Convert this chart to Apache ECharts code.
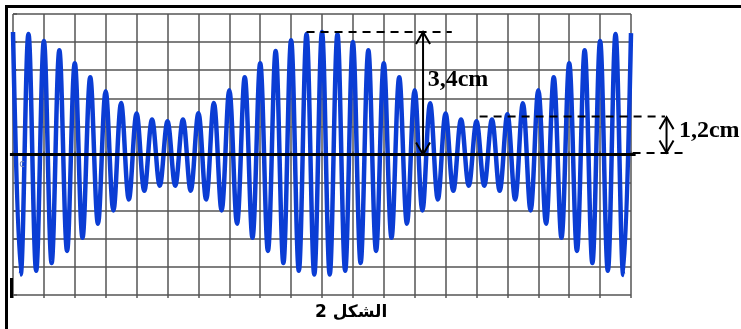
<!DOCTYPE html>
<html>
<head>
<meta charset="utf-8">
<script src="https://cdn.jsdelivr.net/npm/echarts@6/dist/echarts.min.js"></script>
<style>
  html, body { margin: 0; padding: 0; background: #fff; }
  #chart { width: 741px; height: 329px; }
</style>
</head>
<body>
<div id="chart"></div>
<script>
// amplitude of each carrier crest (in grid divisions), one every 0.5 div
var peaks = [4.36, 4.29, 4.04, 3.71, 3.25, 2.75, 2.25, 1.83, 1.46, 1.25,
             1.18, 1.25, 1.47, 1.83, 2.29, 2.75, 3.25, 3.68, 4.07, 4.29,
             4.36, 4.29, 4.00, 3.71, 3.25, 2.75, 2.29, 1.82, 1.46, 1.25,
             1.18, 1.25, 1.43, 1.82, 2.29, 2.75, 3.25, 3.71, 4.04, 4.29,
             4.32];
// depth of each trough, between two crests
var troughs = [4.27, 4.14, 3.86, 3.43, 2.96, 2.46, 1.99, 1.60, 1.29, 1.11,
               1.11, 1.29, 1.60, 1.99, 2.46, 2.96, 3.43, 3.86, 4.14, 4.27,
               4.27, 4.14, 3.86, 3.43, 2.96, 2.46, 1.99, 1.60, 1.29, 1.11,
               1.11, 1.29, 1.60, 1.99, 2.46, 2.96, 3.43, 3.86, 4.14, 4.29];
var halfStep = 0.25;   // div between a crest and the next trough
var xDivs = 20;
var yDivs = 5;
var bigLabel = '3,4cm';
var smallLabel = '1,2cm';
var lowLevel = 1.35;
var caption = '\u202B' + 'الشكل 2' + '\u202C';

var wave = [];
for (var i = 0; i < peaks.length + troughs.length; i++) {
  var v = (i % 2 === 0) ? peaks[i / 2] : -troughs[(i - 1) / 2];
  wave.push([i * halfStep, v]);
}

var chart = echarts.init(document.getElementById('chart'));
var gridColor = '#555';

chart.setOption({
  animation: false,
  grid: { left: 13, right: 110, top: 14, bottom: 34 },
  xAxis: [{
    type: 'value', min: 0, max: xDivs, interval: 1,
    axisLine: { show: false }, axisTick: { show: false }, axisLabel: { show: false },
    splitLine: { show: true, lineStyle: { color: gridColor, width: 1.5 } }
  }, {
    type: 'value', min: 0, max: xDivs, interval: 1, position: 'top',
    axisLine: { show: false }, axisLabel: { show: false }, splitLine: { show: false },
    axisTick: { show: true, length: 3, lineStyle: { color: gridColor, width: 1.5 } }
  }, {
    type: 'value', min: 0, max: xDivs, interval: 1, position: 'bottom', offset: 0,
    axisLine: { show: false }, axisLabel: { show: false }, splitLine: { show: false },
    axisTick: { show: true, length: 3, lineStyle: { color: gridColor, width: 1.5 } }
  }],
  yAxis: [{
    type: 'value', min: -yDivs, max: yDivs, interval: 1,
    axisLine: { show: false }, axisTick: { show: false }, axisLabel: { show: false },
    splitLine: { show: true, lineStyle: { color: gridColor, width: 1.5 } }
  }, {
    type: 'value', min: -yDivs, max: yDivs, interval: 1, position: 'right',
    axisLine: { show: false }, axisLabel: { show: false }, splitLine: { show: false },
    axisTick: { show: true, length: 4, lineStyle: { color: gridColor, width: 1.5 } }
  }],
  series: [{
    type: 'line',
    data: wave,
    showSymbol: false,
    smooth: 0.36,
    lineStyle: { color: '#0b3dd4', width: 4.5 },
    z: 3
  }]
});

function px(x, y) { return chart.convertToPixel({ gridIndex: 0 }, [x, y]); }
function seg(a, b, w, dash) {
  return { type: 'line', z: 100, shape: { x1: a[0], y1: a[1], x2: b[0], y2: b[1] },
           style: { stroke: '#000', lineWidth: w, lineDash: dash || null } };
}
function head(p, dir) {
  return { type: 'polyline', z: 100,
           shape: { points: [[p[0] - 7, p[1] + dir * 12], [p[0], p[1]], [p[0] + 7, p[1] + dir * 12]] },
           style: { stroke: '#000', lineWidth: 2, fill: null } };
}
function label(p, text, font, color) {
  return { type: 'text', z: 100, x: p[0], y: p[1],
           style: { text: text, font: font, fill: color || '#000',
                    textAlign: 'left', textVerticalAlign: 'middle', align: 'left', verticalAlign: 'middle' } };
}

var maxLevel = Math.max.apply(null, peaks);
var a1top = px(13.27, maxLevel), a1bot = px(13.27, 0);
var a2top = px(21.15, lowLevel - 0.02), a2bot = px(21.15, 0.07);
var dash = [8, 6];
var cap = px(10.94, -5.62);

chart.setOption({
  graphic: [
    // frame
    seg([5, 6.5], [741, 6.5], 3),
    seg([6.5, 5], [6.5, 329], 3),
    seg([11.5, 278], [11.5, 298], 3),
    // zero axis
    seg(px(-0.1, 0), px(20.15, 0), 3),
    label(px(0.2, -0.35), 'c', '10px "DejaVu Sans"', '#7080b0'),
    // 3,4cm
    seg(px(9.5, maxLevel), px(14.2, maxLevel), 2, dash),
    seg(a1top, a1bot, 2),
    head(a1top, 1),
    head(a1bot, -1),
    label(px(13.42, 2.67), bigLabel, 'bold 24px "Liberation Serif"'),
    // 1,2cm
    seg(px(15.1, lowLevel), px(21.1, lowLevel), 2, dash),
    seg(px(20.05, 0.05), px(21.8, 0.05), 2, dash),
    seg(a2top, a2bot, 2),
    head(a2top, 1),
    head(a2bot, -1),
    label(px(21.55, 0.85), smallLabel, 'bold 24px "Liberation Serif"'),
    // caption
    { type: 'text', z: 100, x: cap[0], y: cap[1],
      style: { text: caption, font: 'bold 17px "DejaVu Sans"', fill: '#000',
               textAlign: 'center', textVerticalAlign: 'middle', align: 'center', verticalAlign: 'middle' } }
  ]
});
</script>
</body>
</html>
